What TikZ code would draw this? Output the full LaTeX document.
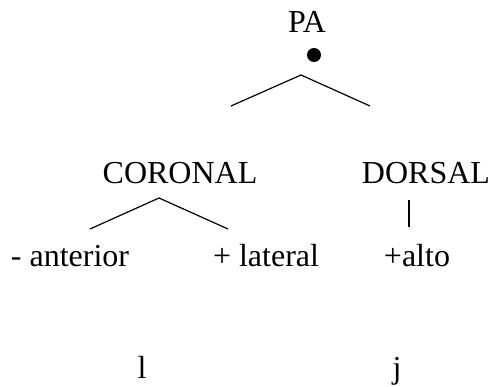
\documentclass[tikz,border=0pt]{standalone}
\usepackage{fontspec}
\setmainfont{Liberation Serif}
\usepackage{tikz}
\usetikzlibrary{positioning}
\tikzstyle{feat}=[inner sep=0pt, anchor=base, font=\fontsize{32}{38}\selectfont]
\tikzstyle{branch}=[line width=1.2pt]
\tikzstyle{root}=[circle, fill=black, inner sep=0pt, minimum size=14pt]
\begin{document}
\begin{tikzpicture}[x=1pt,y=-1pt]
\useasboundingbox (0,0) rectangle (493,387);
  \node[feat] at (307,33) (pa) {PA};
  \node[root] at (314,55) (dot) {};
  \coordinate (top) at (301,75);
  \coordinate (topl) at (231,106);
  \coordinate (topr) at (370,106);
\draw[branch] (topl) -- (top) -- (topr);

  \node[feat] at (180,184) (cor) {CORONAL};
  \node[feat] at (426,184) (dor) {DORSAL};

  \coordinate (corapex) at (159,198);
  \coordinate (corl) at (90,229);
  \coordinate (corr) at (228,229);
\draw[branch] (corl) -- (corapex) -- (corr);

  \coordinate (dortop) at (409,200);
  \coordinate (dorbot) at (409,227);
\draw[branch] (dortop) -- (dorbot);

  \node[feat] at (70,267) (ant) {- anterior};
  \node[feat] at (266,267) (lat) {+ lateral};
  \node[feat] at (417,267) (alto) {+alto};

  \node[feat] at (142,379) (l) {l};
  \node[feat] at (397,379) (j) {j};
\end{tikzpicture}
\end{document}
